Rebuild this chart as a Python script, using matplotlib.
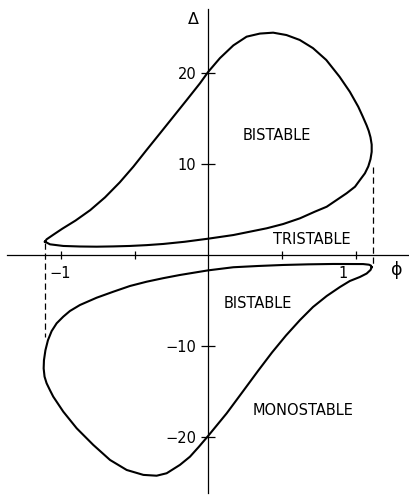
import matplotlib
matplotlib.use("Agg")
import matplotlib.pyplot as plt

# boundary of the upper region (phi, Delta), counter-clockwise from the left tip
upper_phi = [-1.107, -1.073, -0.983, -0.87, -0.757, -0.644, -0.531, -0.418, -0.305, -0.16,
             0.0, 0.17, 0.396, 0.508, 0.622, 0.723, 0.803, 0.938, 0.995, 1.028,
             1.062, 1.085, 1.100, 1.108, 1.108, 1.100, 1.088, 1.074, 1.047, 1.017,
             0.96, 0.89, 0.80, 0.71, 0.62, 0.53, 0.44, 0.35, 0.26, 0.17,
             0.079, 0.0, -0.056, -0.146, -0.237, -0.327, -0.418, -0.508, -0.60, -0.70,
             -0.80, -0.90, -0.99, -1.05, -1.096, -1.107]
upper_delta = [1.43, 1.14, 0.96, 0.9, 0.88, 0.91, 0.96, 1.05, 1.18, 1.42,
               1.76, 2.16, 2.9, 3.37, 4.0, 4.73, 5.27, 6.75, 7.47, 8.2,
               8.94, 9.7, 10.5, 11.3, 12.1, 12.9, 13.6, 14.2, 15.2, 16.26,
               17.9, 19.56, 21.4, 22.7, 23.6, 24.14, 24.4, 24.3, 23.96, 23.0,
               21.6, 20.1, 18.84, 17.0, 15.16, 13.34, 11.51, 9.67, 7.95, 6.3,
               4.9, 3.75, 2.85, 2.2, 1.69, 1.43]

# boundary of the lower region, starting at the right tip
lower_phi = [1.108, 1.103, 1.09, 1.05, 0.847, 0.678, 0.508, 0.34, 0.17, 0.0,
             -0.192, -0.305, -0.418, -0.531, -0.644, -0.757, -0.87, -0.938, -0.983, -1.028,
             -1.062, -1.087, -1.104, -1.114, -1.116, -1.11, -1.096, -1.073, -1.051, -0.983,
             -0.892, -0.78, -0.666, -0.553, -0.44, -0.35, -0.282, -0.192, -0.124, -0.063,
             0.0, 0.125, 0.237, 0.337, 0.432, 0.527, 0.622, 0.71, 0.803, 0.893,
             0.96, 1.028, 1.074, 1.10, 1.108]
lower_delta = [-1.38, -1.2, -1.1, -1.03, -1.02, -1.06, -1.13, -1.24, -1.38, -1.72,
               -2.23, -2.58, -2.97, -3.44, -4.07, -4.73, -5.53, -6.19, -6.81, -7.54,
               -8.4, -9.4, -10.5, -11.6, -12.5, -13.4, -14.13, -14.9, -15.6, -17.25,
               -19.08, -20.9, -22.56, -23.66, -24.2, -24.29, -24.02, -23.1, -22.2, -21.1,
               -19.9, -17.43, -14.98, -12.78, -10.75, -8.88, -7.18, -5.75, -4.54, -3.55,
               -2.89, -2.45, -2.07, -1.68, -1.38]

# dashed verticals at the tips: (phi, Delta from, Delta to)
left_mark = (-1.107, 1.3, -9.0)
right_mark = (1.114, 9.6, -1.0)

xticks = [-1, -0.5, 0.5, 1]
yticks = [-20, -10, 10, 20]
ytick_labels = ["\u221220", "\u221210", "10", "20"]

regions = [("BISTABLE", 0.464, 13.15), ("TRISTABLE", 0.70, 1.65),
           ("BISTABLE", 0.333, -5.34), ("MONOSTABLE", 0.644, -17.07)]

fs = 10.5
fig = plt.figure(figsize=(4.09, 4.95), dpi=100)
ax = fig.add_axes([0, 0, 1, 1])
ax.set_xlim(-1.412, 1.361)
ax.set_ylim(-26.41, 27.99)

ax.plot(upper_phi, upper_delta, color="black", lw=1.5, solid_joinstyle="round")
ax.plot(lower_phi, lower_delta, color="black", lw=1.5, solid_joinstyle="round")

for x, y0, y1 in (left_mark, right_mark):
    ax.plot([x, x], [y0, y1], color="black", lw=0.9, linestyle=(0, (5, 3)))

# axes through the origin
for side in ("top", "right"):
    ax.spines[side].set_visible(False)
ax.spines["left"].set_position(("data", 0))
ax.spines["bottom"].set_position(("data", 0))
ax.spines["left"].set_bounds(-26.2, 27.0)
ax.spines["bottom"].set_bounds(-1.364, 1.361)
for side in ("left", "bottom"):
    ax.spines[side].set_linewidth(0.9)

ax.set_xticks(xticks)
ax.set_xticklabels([])
ax.set_yticks(yticks)
ax.set_yticklabels(ytick_labels, fontsize=fs)
ax.tick_params(axis="x", direction="inout", length=6, width=0.9)
ax.tick_params(axis="y", direction="inout", length=10, width=0.9, pad=3.5)

ax.text(-1.005, -2.05, "\u22121", fontsize=fs, ha="center", va="center")
ax.text(0.915, -2.05, "1", fontsize=fs, ha="center", va="center")
ax.text(1.28, -1.7, "\u03d5", fontsize=fs + 2, ha="center", va="center")
ax.text(-0.104, 25.8, "\u0394", fontsize=fs + 1, ha="center", va="center")

for name, x, y in regions:
    ax.text(x, y, name, fontsize=fs, ha="center", va="center")

fig.savefig("out.png", dpi=100)
